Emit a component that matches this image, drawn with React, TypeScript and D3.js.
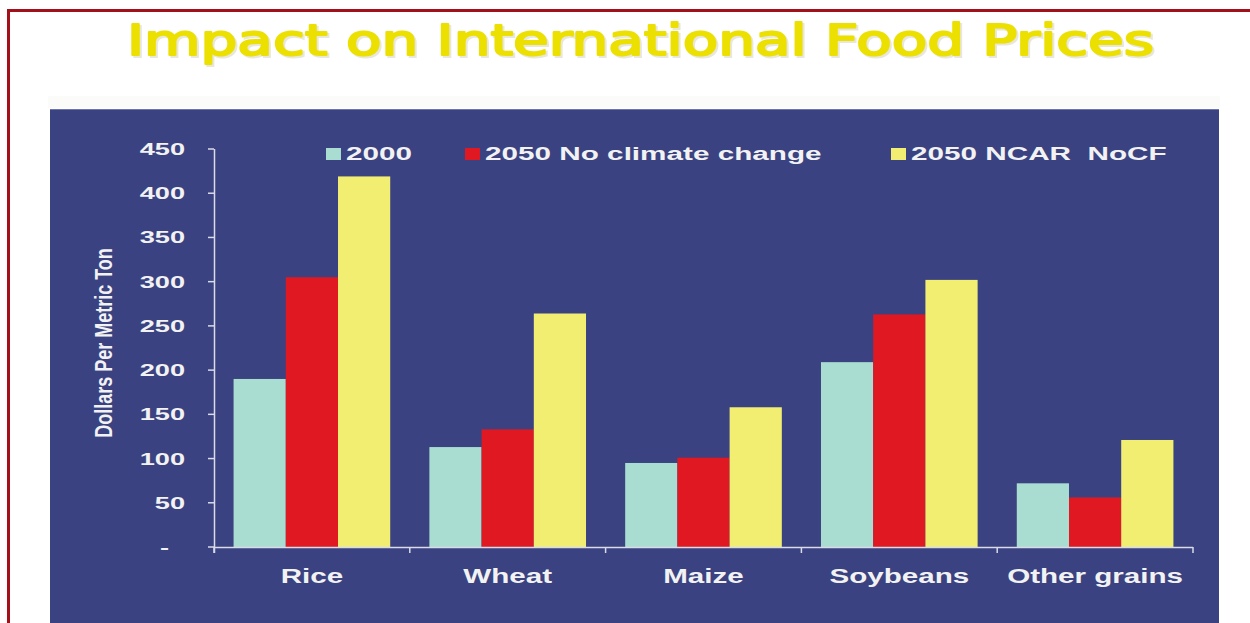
import React from "react";
import * as d3 from "d3";

const categories = ["Rice", "Wheat", "Maize", "Soybeans", "Other grains"];
const series2000 = [190, 113, 95, 209, 72];
const seriesNoCC = [305, 133, 101, 263, 56];
const seriesNCAR = [419, 264, 158, 302, 121];
const seriesNames = ["2000", "2050 No climate change", "2050 NCAR  NoCF"];
const seriesColors = ["#a9ddd2", "#e01822", "#f1ee72"];
const yTicks = [0, 50, 100, 150, 200, 250, 300, 350, 400, 450];
const yTickLabels = ["-", "50", "100", "150", "200", "250", "300", "350", "400", "450"];
const titleText = "Impact on International Food Prices";
const yAxisTitle = "Dollars Per Metric Ton";

const W = 1250;
const H = 623;
const plot = { left: 214, right: 1193, top: 149, bottom: 547 };
const BG = "#3a4281";
const AXIS = "#d9dbe6";
const FONT = "'Liberation Sans', Arial, sans-serif";

function SText(props: any) {
  const { x, y, sx = 1, anchor = "start", children, rotate = 0, ...rest } = props;
  return (
    <text
      transform={`translate(${x},${y}) rotate(${rotate}) scale(${sx},1)`}
      textAnchor={anchor}
      {...rest}
    >
      {children}
    </text>
  );
}

export default function App() {
  const allSeries = [series2000, seriesNoCC, seriesNCAR];
  const x0 = d3
    .scaleBand<string>()
    .domain(categories)
    .range([plot.left, plot.right])
    .paddingInner(0.2)
    .paddingOuter(0.1);
  const x1 = d3
    .scaleBand<number>()
    .domain([0, 1, 2])
    .range([0, x0.bandwidth()])
    .padding(0);
  const y = d3.scaleLinear().domain([0, 450]).range([plot.bottom, plot.top]);
  const step = x0.step();
  const boundaries = d3.range(categories.length + 1).map((i) => plot.left + i * step);

  const legendX = [326, 465, 891];

  return (
    <svg
      width={W}
      height={H}
      style={{ position: "absolute", left: 0, top: 0, background: "#ffffff" }}
    >
      <rect x={0} y={0} width={W} height={H} fill="#ffffff" />
      {/* red frame */}
      <path d={`M8.5,${H + 5} L8.5,10.5 L${W + 5},10.5`} fill="none" stroke="#a3101a" strokeWidth={3} />
      {/* faint light band */}
      <rect x={48} y={96} width={1172} height={12} fill="#fbfbfa" />
      {/* title */}
      <text
        x={129}
        y={57}
        fontFamily="'DejaVu Sans', Verdana, sans-serif"
        fontSize={43}
        fill="#b8b08a"
        stroke="#b8b08a"
        strokeWidth={2}
        opacity={0.3}
        textLength={1027}
        lengthAdjust="spacingAndGlyphs"
      >
        {titleText}
      </text>
      <text
        x={127}
        y={55}
        fontFamily="'DejaVu Sans', Verdana, sans-serif"
        fontSize={43}
        fill="#ece000"
        stroke="#ece000"
        strokeWidth={2}
        strokeLinejoin="round"
        textLength={1027}
        lengthAdjust="spacingAndGlyphs"
      >
        {titleText}
      </text>
      {/* blue panel */}
      <rect x={50} y={109} width={1169} height={H - 109 + 5} fill={BG} />
      <line x1={50} x2={1219} y1={109.5} y2={109.5} stroke="#6b74ad" strokeWidth={1} />

      {/* bars */}
      {categories.map((c, ci) => (
        <g key={c} transform={`translate(${x0(c)},0)`}>
          {allSeries.map((s, si) => (
            <rect
              key={si}
              x={x1(si)}
              y={y(s[ci])}
              width={x1.bandwidth()}
              height={y(0) - y(s[ci])}
              fill={seriesColors[si]}
            />
          ))}
        </g>
      ))}

      {/* y axis */}
      <line x1={plot.left + 0.5} x2={plot.left + 0.5} y1={plot.top} y2={plot.bottom + 6} stroke={AXIS} strokeWidth={1.5} />
      {yTicks.map((t, i) => (
        <g key={t}>
          <line x1={plot.left - 6} x2={plot.left} y1={y(t)} y2={y(t)} stroke={AXIS} strokeWidth={1.5} />
          <SText
            x={yTickLabels[i] === "-" ? 169 : 185}
            y={y(t) + 6}
            sx={1.6}
            anchor="end"
            fontFamily={FONT}
            fontWeight="bold"
            fontSize={17}
            fill="#f2f2f2"
          >
            {yTickLabels[i]}
          </SText>
        </g>
      ))}

      {/* x axis */}
      <line x1={plot.left} x2={plot.right} y1={plot.bottom + 0.5} y2={plot.bottom + 0.5} stroke={AXIS} strokeWidth={1.5} />
      {boundaries.map((b, i) => (
        <line key={i} x1={b} x2={b} y1={plot.bottom} y2={plot.bottom + 6} stroke={AXIS} strokeWidth={1.5} />
      ))}
      {categories.map((c) => (
        <SText
          key={c}
          x={(x0(c) as number) + x0.bandwidth() / 2}
          y={583}
          sx={1.48}
          anchor="middle"
          fontFamily={FONT}
          fontWeight="bold"
          fontSize={20}
          fill="#f2f2f2"
        >
          {c}
        </SText>
      ))}

      {/* y axis title */}
      <SText
        x={112}
        y={343}
        rotate={-90}
        sx={0.75}
        anchor="middle"
        fontFamily={FONT}
        fontWeight="bold"
        fontSize={24}
        fill="#f2f2f2"
      >
        {yAxisTitle}
      </SText>

      {/* legend */}
      {seriesNames.map((n, i) => (
        <g key={n}>
          <rect x={legendX[i]} y={148} width={15} height={12} fill={seriesColors[i]} />
          <SText
            x={legendX[i] + 20}
            y={160}
            sx={1.65}
            fontFamily={FONT}
            fontWeight="bold"
            fontSize={18}
            fill="#f2f2f2"
            style={{ whiteSpace: "pre" }}
          >
            {n}
          </SText>
        </g>
      ))}
    </svg>
  );
}
